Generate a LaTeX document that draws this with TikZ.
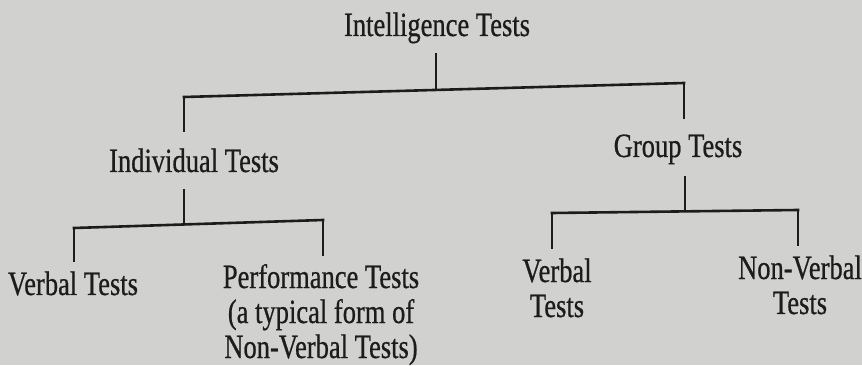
\documentclass[tikz,border=0pt]{standalone}
\usepackage{fontspec}
\setmainfont[FakeStretch=0.78, FakeBold=0.6]{Liberation Serif}
\definecolor{pagegray}{RGB}{209,209,207}
\definecolor{inkgray}{RGB}{28,28,28}
\tikzset{
	testtext/.style={font=\fontsize{34}{35}\selectfont, text=inkgray, inner sep=0pt, anchor=base, align=center},
	stemline/.style={draw=inkgray, line width=2pt},
	crossline/.style={draw=inkgray, line width=2.6pt, line cap=rect},
}

\begin{document}
\begin{tikzpicture}[x=1pt, y=-1pt]
		\fill[pagegray] (0,0) rectangle (862,365);

		\node[testtext] (intel) at (437,36) {Intelligence Tests};
		\node[testtext] (indiv) at (194,172) {Individual Tests};
		\node[testtext] (group) at (678,157) {Group Tests};
		\node[testtext] (iverbal) at (73,295) {Verbal Tests};
		\node[testtext] (perform) at (321,358) {Performance Tests\\(a typical form of\\Non-Verbal Tests)};
		\node[testtext] (gverbal) at (557,317) {Verbal\\Tests};
		\node[testtext] (gnonverbal) at (800,314) {Non-Verbal\\Tests};

		\coordinate (intelstem) at (436,53);
		\coordinate (intelbar) at (436,90);
		\coordinate (indivtop) at (184,97);
		\coordinate (grouptop) at (684,83);
		\coordinate (indivend) at (184,132);
		\coordinate (groupend) at (684,119);

		\coordinate (indivstem) at (184,189);
		\coordinate (indivbar) at (184,224);
		\coordinate (iverbaltop) at (74,228);
		\coordinate (performtop) at (323,220);
		\coordinate (iverbalend) at (74,262);
		\coordinate (performend) at (323,256);

		\coordinate (groupstem) at (685,176);
		\coordinate (groupbar) at (685,211);
		\coordinate (gverbaltop) at (552,213);
		\coordinate (gnonverbaltop) at (798,210);
		\coordinate (gverbalend) at (552,249);
		\coordinate (gnonverbalend) at (798,246);

		\draw[stemline] (intelstem) -- (intelbar);
		\draw[crossline] (indivtop) -- (grouptop);
		\draw[stemline] (indivtop) -- (indivend);
		\draw[stemline] (grouptop) -- (groupend);

		\draw[stemline] (indivstem) -- (indivbar);
		\draw[crossline] (iverbaltop) -- (performtop);
		\draw[stemline] (iverbaltop) -- (iverbalend);
		\draw[stemline] (performtop) -- (performend);

		\draw[stemline] (groupstem) -- (groupbar);
		\draw[crossline] (gverbaltop) -- (gnonverbaltop);
		\draw[stemline] (gverbaltop) -- (gverbalend);
		\draw[stemline] (gnonverbaltop) -- (gnonverbalend);
	\end{tikzpicture}
\end{document}
